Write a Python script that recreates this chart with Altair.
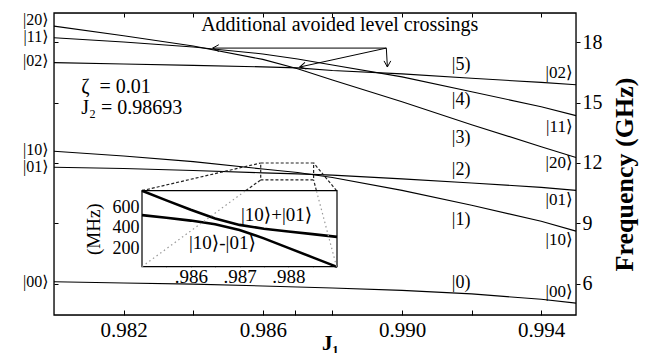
import altair as alt
import pandas as pd

# ---------------- data ----------------
J1 = [0.980, 0.982, 0.984, 0.986, 0.987, 0.988, 0.990, 0.992, 0.994, 0.995]
E20 = [18.79, 18.31, 17.80, 17.14, 16.67, 16.12, 15.04, 13.90, 12.81, 12.27]
E11 = [18.21, 18.00, 17.75, 17.41, 17.16, 16.86, 16.27, 15.53, 14.79, 14.35]
E02 = [16.98, 16.91, 16.84, 16.77, 16.72, 16.59, 16.42, 16.20, 16.00, 15.88]
E10 = [12.58, 12.35, 12.07, 11.70, 11.53, 11.28, 10.64, 9.90, 9.11, 8.62]
E01 = [11.79, 11.73, 11.63, 11.51, 11.46, 11.40, 11.21, 11.01, 10.79, 10.64]
E00 = [6.11, 6.05, 5.99, 5.90, 5.85, 5.80, 5.68, 5.51, 5.24, 5.05]

inset_J = [0.9850, 0.9855, 0.9860, 0.9865, 0.9870, 0.9875, 0.9880, 0.9885, 0.9890]
inset_plus = [759, 666, 574, 490, 427, 390, 363, 337, 310]
inset_minus = [522, 496, 469, 434, 378, 296, 203, 111, 18]

left_kets = ["|20⟩", "|11⟩", "|02⟩", "|10⟩", "|01⟩", "|00⟩"]
left_E = [19.09, 18.25, 17.06, 12.64, 11.80, 6.10]
right_kets = ["|02⟩", "|11⟩", "|20⟩", "|01⟩", "|10⟩", "|00⟩"]
right_E = [16.46, 13.78, 12.00, 10.16, 8.18, 5.60]
state_labels = ["|5)", "|4)", "|3)", "|2)", "|1)", "|0)"]
state_E = [16.86, 15.12, 13.24, 11.65, 9.17, 6.05]

x_ticks = [0.982, 0.984, 0.986, 0.98693, 0.988, 0.990, 0.992, 0.994]
x_frame_ticks = [0.982, 0.984, 0.986, 0.988, 0.990, 0.992, 0.994]
y_ticks = [6, 9, 12, 15, 18]
inset_x_ticks = [0.9855, 0.986, 0.9865, 0.987, 0.9875, 0.988, 0.9885]
inset_y_ticks = [100, 200, 300, 400, 500, 600, 700]

# annotation geometry (data coordinates)
arrow_x1 = [0.98955, 0.98955, 0.98955]
arrow_y1 = [17.70, 17.70, 17.70]
arrow_x2 = [0.98456, 0.98706, 0.98958]
arrow_y2 = [17.70, 16.76, 16.76]
arrow_ang = [180, 168, 90]

conn_x1 = [0.98253, 0.98551, 0.98812, 0.98754]
conn_y1 = [10.63, 10.63, 10.63, 10.63]
conn_x2 = [0.98594, 0.98594, 0.98746, 0.98746]
conn_y2 = [12.00, 11.16, 12.00, 11.16]
dot_x1 = [0.98253, 0.98812]
dot_y1 = [6.86, 6.86]
dot_x2 = [0.98551, 0.98754]
dot_y2 = [10.63, 10.63]
box_x = [0.98594, 0.98746]
box_y = [11.16, 12.00]

SERIF = "'Liberation Serif', 'DejaVu Serif', serif"
XDOM = [0.980, 0.995]
YDOM = [4.46, 19.44]
XS = alt.Scale(domain=XDOM, nice=False, zero=False)
YS = alt.Scale(domain=YDOM, nice=False, zero=False)
NOX = alt.X("x:Q", scale=XS, axis=None)
NOY = alt.Y("y:Q", scale=YS, axis=None)

# ---------------- main panel (no axes here) ----------------
series = {"|20⟩": E20, "|11⟩": E11, "|02⟩": E02, "|10⟩": E10, "|01⟩": E01, "|00⟩": E00}
lines_df = pd.DataFrame([{"x": j, "y": e, "s": n} for n, v in series.items() for j, e in zip(J1, v)])

lines = alt.Chart(lines_df).mark_line(color="black", strokeWidth=1.1).encode(x=NOX, y=NOY, detail="s:N")

frame_rect = alt.Chart(pd.DataFrame({"x": [XDOM[0]], "x2": [XDOM[1]], "y": [YDOM[0]], "y2": [YDOM[1]]})).mark_rect(
    fillOpacity=0, stroke="black", strokeWidth=1.3
).encode(x=NOX, x2="x2:Q", y=NOY, y2="y2:Q")


def txt(labels, xs, ys, **kw):
    df = pd.DataFrame({"t": labels, "x": xs, "y": ys})
    return alt.Chart(df).mark_text(font=SERIF, color="black", **kw).encode(x=NOX, y=NOY, text="t:N")


left_txt = txt(left_kets, [0.97984] * 6, left_E, align="right", fontSize=16)
right_txt = txt(right_kets, [0.9949] * 6, right_E, align="right", fontSize=17)
state_txt = txt(state_labels, [0.9917] * 6, state_E, align="center", fontSize=18)
param_txt = txt(["ζ\u00a0\u00a0= 0.01", "J₂ = 0.98693"], [0.98078, 0.98078], [15.77, 14.73], align="left", fontSize=20)
title_txt = txt(["Additional avoided level crossings"], [0.98821], [18.85], align="center", fontSize=20)


def segs(x1, y1, x2, y2, **kw):
    df = pd.DataFrame({"x": x1, "y": y1, "x2": x2, "y2": y2})
    return alt.Chart(df).mark_rule(**kw).encode(x=NOX, y=NOY, x2="x2:Q", y2="y2:Q")


arrows = segs(arrow_x1, arrow_y1, arrow_x2, arrow_y2, color="black", strokeWidth=1)
heads = alt.Chart(pd.DataFrame({"x": arrow_x2, "y": arrow_y2, "a": arrow_ang})).mark_point(
    shape="M-1,-0.55L0,0L-1,0.55", size=150, filled=False, color="black", strokeWidth=1, opacity=1
).encode(x=NOX, y=NOY, angle=alt.Angle("a:Q", scale=None))

conns = segs(conn_x1, conn_y1, conn_x2, conn_y2, color="#222", strokeWidth=1.2, strokeDash=[3, 2])
dots = segs(dot_x1, dot_y1, dot_x2, dot_y2, color="#999", strokeWidth=1.2, strokeDash=[1.5, 3])
box = alt.Chart(pd.DataFrame({"x": [box_x[0]], "x2": [box_x[1]], "y": [box_y[0]], "y2": [box_y[1]]})).mark_rect(
    fillOpacity=0, stroke="#222", strokeWidth=1.2, strokeDash=[3, 2]
).encode(x=NOX, x2="x2:Q", y=NOY, y2="y2:Q")

main = alt.layer(frame_rect, lines, conns, box, arrows, heads, left_txt, right_txt, state_txt, param_txt, title_txt)

# ---------------- axes of the main panel ----------------
grid_df = pd.DataFrame({"x": J1, "y": E00})
axes_br = alt.Chart(grid_df).mark_point(opacity=0).encode(
    x=alt.X("x:Q", scale=XS, axis=alt.Axis(
        orient="bottom", values=x_ticks, offset=-5, tickSize=5, domain=False,
        labelExpr="indexof(['0.982','0.986','0.990','0.994'], format(datum.value,'.3f')) >= 0 ? format(datum.value,'.3f') : ''",
        labelFont=SERIF, labelFontSize=21, labelPadding=4, labelColor="black", tickColor="black",
        grid=False, title="J₁", titleFont=SERIF, titleFontSize=21, titleFontWeight="bold",
        titleColor="black", titleX=276, titleY=33, titleAlign="center", titleBaseline="middle")),
    y=alt.Y("y:Q", scale=YS, axis=alt.Axis(
        orient="right", values=y_ticks, tickSize=4, domain=False, grid=False,
        labelFont=SERIF, labelFontSize=20, labelPadding=2, labelColor="black", tickColor="black",
        title="Frequency (GHz)", titleFont=SERIF, titleFontSize=26, titleFontWeight="bold",
        titleColor="black", titleAngle=270, titleX=48, titleY=161, titleAlign="center",
        titleBaseline="middle")),
)

axes_tl = alt.Chart(grid_df).mark_point(opacity=0).encode(
    x=alt.X("x:Q", scale=XS, axis=alt.Axis(orient="top", values=x_frame_ticks, offset=-4, tickSize=4,
                                            labels=False, domain=False, grid=False, title=None, tickColor="black")),
    y=alt.Y("y:Q", scale=YS, axis=alt.Axis(orient="left", values=y_ticks, offset=-4, tickSize=4,
                                            labels=False, domain=False, grid=False, title=None, tickColor="black")),
)

# ---------------- inset ----------------
IXS = alt.Scale(domain=[0.985, 0.989], range=[88, 283], nice=False, zero=False)
IYS = alt.Scale(domain=[20, 760], range=[253.7, 177.7], nice=False, zero=False)
INX = alt.X("x:Q", scale=IXS, axis=None)
INY = alt.Y("y:Q", scale=IYS, axis=None)

inset_df = pd.DataFrame(
    [{"x": j, "y": m, "s": "plus"} for j, m in zip(inset_J, inset_plus)]
    + [{"x": j, "y": m, "s": "minus"} for j, m in zip(inset_J, inset_minus)])

inset_frame = alt.Chart(pd.DataFrame({"x": [0.985], "x2": [0.989], "y": [20], "y2": [760]})).mark_rect(
    fill="white", stroke="black", strokeWidth=1.2
).encode(x=INX, x2="x2:Q", y=INY, y2="y2:Q")

inset_lines = alt.Chart(inset_df).mark_line(color="black", strokeWidth=2.6).encode(x=INX, y=INY, detail="s:N")

inset_txt = alt.Chart(pd.DataFrame({"t": ["|10⟩+|01⟩", "|10⟩-|01⟩"], "x": [0.98776, 0.98665], "y": [522, 249]})).mark_text(
    font=SERIF, fontSize=19, color="black", align="center"
).encode(x=INX, y=INY, text="t:N")

inset = alt.layer(inset_frame, inset_lines, inset_txt)

inset_axes = alt.Chart(pd.DataFrame({"x": inset_J, "y": inset_plus})).mark_point(opacity=0).encode(
    x=alt.X("x:Q", scale=IXS, axis=alt.Axis(
        orient="bottom", offset=-51.3, tickSize=3, domain=False, grid=False, values=inset_x_ticks,
        labelExpr="(round(datum.value*10000) % 10 == 0) ? substring(format(datum.value,'.3f'),1) : ''",
        labelFont=SERIF, labelFontSize=19, labelPadding=1, labelColor="black", tickColor="black", title=None)),
    y=alt.Y("y:Q", scale=IYS, axis=alt.Axis(
        orient="left", offset=-91, tickSize=3, domain=False, grid=False, values=inset_y_ticks,
        labelExpr="(datum.value % 200 == 0) ? format(datum.value,'d') : ''",
        labelFont=SERIF, labelFontSize=18, labelPadding=3, labelColor="black", tickColor="black",
        title="(MHz)", titleFont=SERIF, titleFontSize=19, titleFontWeight="normal", titleColor="black",
        titlePadding=9)),
)

chart = alt.layer(main, axes_br, axes_tl, inset, inset_axes, dots).resolve_scale(
    x="independent", y="independent"
).resolve_axis(x="independent", y="independent").properties(
    width=522, height=302,
    autosize=alt.AutoSizeParams(type="none"),
    padding={"left": 46, "top": 5, "right": 63, "bottom": 38},
).configure_view(strokeOpacity=0).configure(background="white")

chart.save("out.html", embed_options={"renderer": "svg", "actions": False})
